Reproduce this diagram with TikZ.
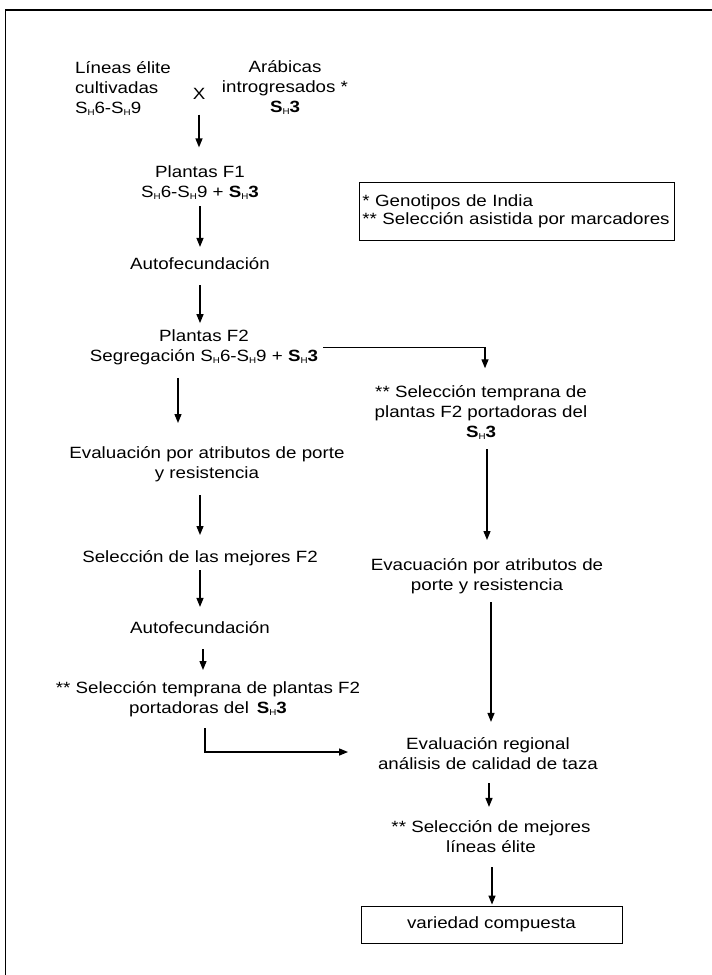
\documentclass[tikz,border=0pt]{standalone}
\usepackage{fontspec}
\setmainfont[FakeStretch=1.15]{Liberation Sans}
\usepackage{tikz}
\usetikzlibrary{arrows.meta,calc}
\newcommand{\shv}{S\raisebox{-2pt}{\fontsize{8.5}{8.5}\selectfont H}}
\newcommand{\shb}{\textbf{S}\raisebox{-2pt}{\fontsize{8.5}{8.5}\selectfont H}\textbf{3}}
\tikzset{
  txt/.style={inner sep=0pt,outer sep=0pt,align=center},
  arr/.style={-{Triangle[length=9pt,width=7pt]},line width=1.3pt},
  lgd/.style={draw,line width=0.9pt,inner xsep=2pt,inner ysep=0pt,align=left,anchor=north west,minimum width=315pt,minimum height=58pt,text width=309pt,font=\fontsize{16.3}{18}\selectfont},
  res/.style={draw,line width=0.9pt,minimum width=261pt,minimum height=37pt,inner sep=0pt},
}
\begin{document}
\begin{tikzpicture}[x=1pt,y=-1pt,every node/.style={font=\fontsize{16.3}{20}\selectfont}]
 \useasboundingbox (0,0) rectangle (712,975);
 \draw[line width=1.4pt] (712,10) -- (5.5,10) -- (5.5,975);
 % left column
 \node[txt,align=left,anchor=west] (lin) at (75,88.8) {Líneas élite\\cultivadas\\\shv6-\shv9};
 \node[txt] (cross) at (199,94) {X};
 \node[txt] (arab) at (285,87.5) {Arábicas\\introgresados *\\\shb};
 \node[txt] (f1) at (200,182.3) {Plantas F1\\\shv6-\shv9 + \shb};
 \node[txt] (auto1) at (200,264) {Autofecundación};
 \node[txt] (f2) at (204,347.7) {Plantas F2\\Segregación \shv6-\shv9 + \shb};
 \node[txt] (evp) at (207,463.7) {Evaluación por atributos de porte\\y resistencia};
 \node[txt] (mej) at (200,557.7) {Selección de las mejores F2};
 \node[txt] (auto2) at (200,628) {Autofecundación};
 \node[txt] (stl) at (208,698.7) {** Selección temprana de plantas F2\\portadoras del~\,\shb};
 % right column
 \node[lgd] (key) at (359,182) {* Genotipos de India\\[0pt]** Selección asistida por marcadores};
 \node[txt] (str) at (481,412.3) {** Selección temprana de\\plantas F2 portadoras del\\\shb};
 \node[txt] (evr) at (487,575.7) {Evacuación por atributos de\\porte y resistencia};
 \node[txt] (reg) at (488,754) {Evaluación regional\\análisis de calidad de taza};
 \node[txt] (mejr) at (491,837) {** Selección de mejores\\líneas élite};
 \node[res] (var) at (491.5,924.5) {variedad compuesta};
 % arrows
 \draw[arr,shorten <=15pt,shorten >=18pt] (cross.south) -- (cross.south |- f1.north);
 \draw[arr,shorten <=7pt,shorten >=11pt] (f1.south) -- (f1.south |- auto1.north);
 \draw[arr,shorten <=15pt,shorten >=7pt] (auto1.south) -- (auto1.south |- f2.north);
 \draw[arr,shorten <=12.6pt,shorten >=23pt] ([xshift=-26pt]f2.south) -- ([xshift=-26pt]f2.south |- evp.north);
 \draw[arr,shorten <=13.6pt,shorten >=15pt] (mej.north |- evp.south) -- (mej.north);
 \draw[arr,shorten <=4.6pt,shorten >=15pt] (mej.south) -- (mej.south |- auto2.north);
 \draw[arr,shorten <=15pt,shorten >=11pt] ([xshift=3pt]auto2.south) -- ([xshift=3pt]auto2.south |- stl.north);
 \draw[arr,shorten <=11.6pt,shorten >=30pt] ([xshift=-3pt]stl.south) |- ([yshift=2pt]reg.west);
 \draw[arr,shorten <=5pt,shorten >=17pt] (f2.east) -| ([xshift=4pt]str.north);
 \draw[arr,shorten <=10pt,shorten >=18pt] ([xshift=6pt]str.south) -- ([xshift=6pt]str.south |- evr.north);
 \draw[arr,shorten <=8.6pt,shorten >=16pt] ([xshift=4pt]evr.south) -- ([xshift=4pt]evr.south |- reg.north);
 \draw[arr,shorten <=13pt,shorten >=14pt] ([xshift=1pt]reg.south) -- ([xshift=1pt]reg.south |- mejr.north);
 \draw[arr,shorten <=14pt,shorten >=1pt] ([xshift=1pt]mejr.south) -- ([xshift=1pt]mejr.south |- var.north);
\end{tikzpicture}
\end{document}
